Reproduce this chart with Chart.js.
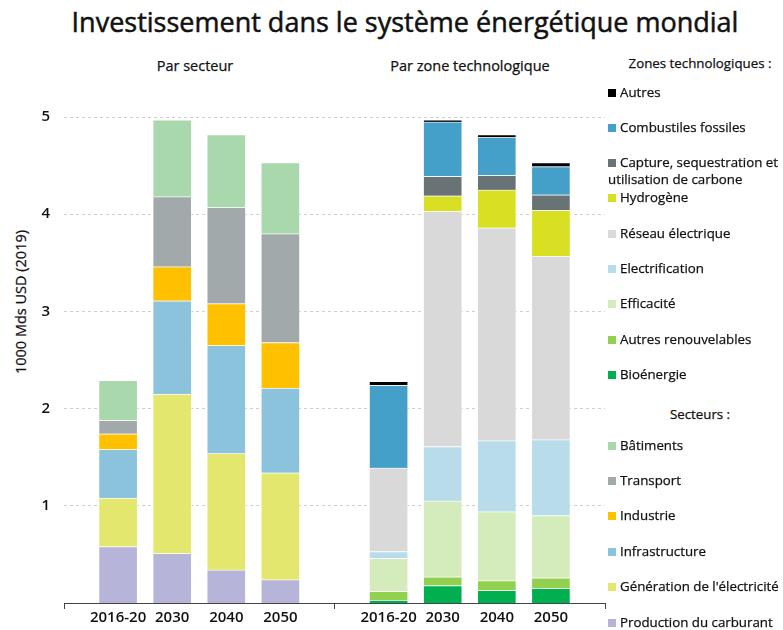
<!DOCTYPE html>
<html lang="fr">
<head>
<meta charset="utf-8">
<title>Investissement dans le système énergétique mondial</title>
<script src="https://cdn.jsdelivr.net/npm/chart.js@4.4.1/dist/chart.umd.min.js"></script>
<style>
  html, body { margin: 0; padding: 0; background: #fff; }
  #wrap { position: relative; width: 783px; height: 630px; overflow: hidden; font-family: 'Open Sans', sans-serif; color: #111; }
  #titre { position: absolute; left: 0; width: 810px; top: 2px; text-align: center; font-size: 27px; line-height: 40px; -webkit-text-stroke: 0.5px #111; }
  .sous { position: absolute; top: 56px; width: 240px; font-size: 14.5px; line-height: 20px; text-align: center; -webkit-text-stroke: 0.25px #111; }
  #ytitre { position: absolute; left: 20px; top: 302px; transform: translate(-50%, -50%) rotate(-90deg); white-space: nowrap; font-size: 14.5px; -webkit-text-stroke: 0.25px #111; }
  #cadre { position: absolute; left: 0; top: 90px; width: 612px; height: 540px; }
  .leg { position: absolute; left: 608px; font-size: 13.3px; line-height: 17px; white-space: pre-line; -webkit-text-stroke: 0.25px #111; }
  .leg i { display: inline-block; width: 8px; height: 8px; margin-right: 4px; vertical-align: 0; }
  .legtitre { position: absolute; left: 610px; width: 180px; text-align: center; font-size: 13.3px; line-height: 17px; -webkit-text-stroke: 0.25px #111; }
</style>
</head>
<body>
<div id="wrap">
  <div id="titre">Investissement dans le système énergétique mondial</div>
  <div class="sous" style="left:75px">Par secteur</div>
  <div class="sous" style="left:350px">Par zone technologique</div>
  <div id="ytitre">1000 Mds USD (2019)</div>
  <div class="legtitre" style="top:55px">Zones technologiques :</div>
  <div class="legtitre" style="top:406px">Secteurs :</div>
  <div id="cadre"><canvas id="graphe"></canvas></div>
</div>
<script>
// catégories (les deux panneaux partagent les mêmes années)
var categories = ['2016-20', '2030', '2040', '2050'];

// Par secteur – du bas vers le haut de la pile
var secteurs = ['Production du carburant', "Génération de l'électricité", 'Infrastructure', 'Industrie', 'Transport', 'Bâtiments'];
var productionCarburant = [0.58, 0.51, 0.34, 0.24];
var generationElec      = [0.50, 1.64, 1.20, 1.10];
var infrastructure      = [0.50, 0.96, 1.11, 0.87];
var industrie           = [0.16, 0.35, 0.43, 0.47];
var transport           = [0.14, 0.72, 0.99, 1.12];
var batiments           = [0.41, 0.79, 0.75, 0.73];

// Par zone technologique – du bas vers le haut
var zones = ['Bioénergie', 'Autres renouvelables', 'Efficacité', 'Electrification', 'Réseau électrique', 'Hydrogène',
  'Capture, sequestration et\nutilisation de carbone', 'Combustiles fossiles', 'Autres'];
var bioenergie      = [0.03, 0.18, 0.13, 0.15];
var autresRenouv    = [0.09, 0.09, 0.10, 0.11];
var efficacite      = [0.34, 0.78, 0.71, 0.64];
var electrification = [0.07, 0.56, 0.73, 0.78];
var reseau          = [0.86, 2.42, 2.19, 1.89];
var hydrogene       = [0.00, 0.16, 0.39, 0.47];
var captureCarbone  = [0.00, 0.20, 0.15, 0.16];
var fossiles        = [0.85, 0.56, 0.39, 0.29];
var autres          = [0.04, 0.02, 0.03, 0.04];

var yTicks = [1, 2, 3, 4, 5];

var couleursSecteurs = ['#b6b4d8', '#e3e76e', '#8bc3dd', '#ffc000', '#a2a9ab', '#a8d8ac'];
var couleursZones = ['#00b050', '#92d050', '#d4ebbb', '#b9dcea', '#d9d9d9', '#d9df22', '#697375', '#45a0c9', '#000000'];

(function () {
  'use strict';
  var FONT = "'Open Sans', sans-serif";
  var seriesSect = [productionCarburant, generationElec, infrastructure, industrie, transport, batiments];
  var seriesZone = [bioenergie, autresRenouv, efficacite, electrification, reseau, hydrogene, captureCarbone, fossiles, autres];

  // un seul axe x : vide | panneau gauche | vide | panneau droit | vide
  var labels = [''].concat(categories, [''], categories, ['']);
  var vide = categories.map(function () { return null; });
  function gauche(v) { return [null].concat(v, [null], vide, [null]); }
  function droite(v) { return [null].concat(vide, [null], v, [null]); }

  var datasets = [];
  seriesSect.forEach(function (v, i) {
    datasets.push({ label: secteurs[i], data: gauche(v), backgroundColor: couleursSecteurs[i] });
  });
  seriesZone.forEach(function (v, i) {
    datasets.push({ label: zones[i], data: droite(v), backgroundColor: couleursZones[i] });
  });
  datasets.forEach(function (d) {
    d.borderColor = 'rgba(255,255,255,0.55)';
    d.borderWidth = 1;
    d.barThickness = 39;
  });

  new Chart(document.getElementById('graphe'), {
    type: 'bar',
    data: { labels: labels, datasets: datasets },
    options: {
      responsive: true, maintainAspectRatio: false, animation: false,
      layout: { padding: { top: 27, right: 7, left: 0, bottom: 0 } },
      plugins: { legend: { display: false }, tooltip: { enabled: false } },
      scales: {
        x: {
          stacked: true, offset: false,
          grid: {
            offset: false, drawOnChartArea: false, drawTicks: true, tickLength: 6,
            tickColor: function (c) { return labels[c.index] === '' ? '#444' : 'rgba(0,0,0,0)'; },
          },
          border: { display: true, color: '#444', width: 1 },
          ticks: { autoSkip: false, maxRotation: 0, padding: 0, color: '#111', font: { family: FONT, size: 15, weight: '600' } },
          afterFit: function (s) { s.height = 27; },
        },
        y: {
          stacked: true, min: 0, max: 5,
          afterBuildTicks: function (s) { s.ticks = yTicks.map(function (v) { return { value: v }; }); },
          grid: { color: '#cfcfcf', lineWidth: 1, drawTicks: false },
          border: { display: false, dash: [3, 3] },
          ticks: { padding: 14, color: '#111', font: { family: FONT, size: 15, weight: '600' } },
          afterFit: function (s) { s.width = 64; },
        },
      },
    },
  });

  // légende HTML, dans l'ordre de la pile inversé
  var wrap = document.getElementById('wrap');
  function item(txt, col, yc) {
    var d = document.createElement('div');
    d.className = 'leg';
    d.style.top = (yc - 8.5) + 'px';
    var i = document.createElement('i');
    i.style.background = col;
    d.appendChild(i);
    d.appendChild(document.createTextNode(txt));
    wrap.appendChild(d);
  }
  zones.slice().reverse().forEach(function (z, k) {
    item(z, couleursZones[zones.length - 1 - k], 92 + k * 35.3);
  });
  secteurs.slice().reverse().forEach(function (s, k) {
    item(s, couleursSecteurs[secteurs.length - 1 - k], 445 + k * 35.4);
  });
})();
</script>
</body>
</html>
